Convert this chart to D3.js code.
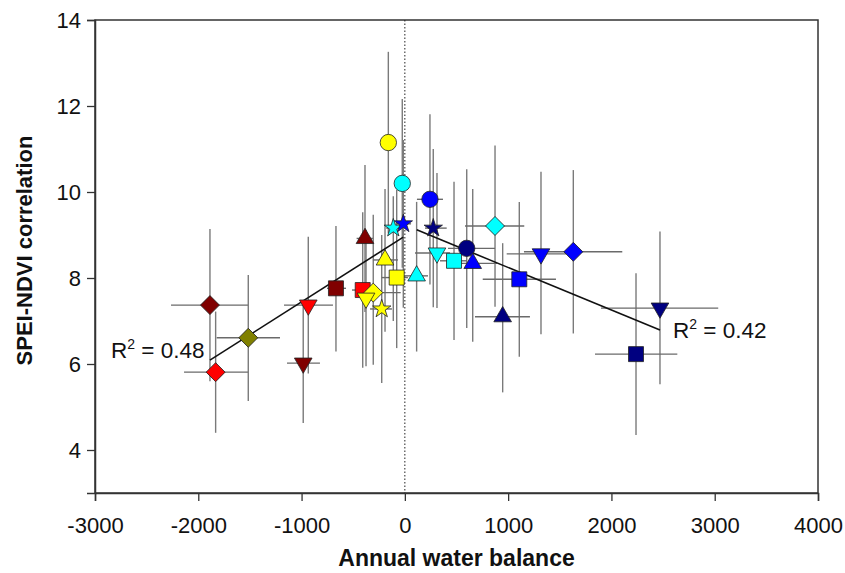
<!DOCTYPE html>
<html>
<head>
<meta charset="utf-8">
<script src="https://cdn.jsdelivr.net/npm/d3@7"></script>
<style>
  body { margin: 0; background: #fff; }
  text { font-family: "Liberation Sans", Arial, sans-serif; }
</style>
</head>
<body>
<div id="chart"></div>
<script>
// values
const waterBalance = [-1887, -1832, -1516, -935, -984, -667, -408, -386, -192, -79, -306, -376, -224, -112, -15, -160, -25, 243, 275, 311, 476, 114, 599, 657, 873, 947, 1108, 1318, 1631, 2470, 2238];
const correlation  = [7.37, 5.81, 6.61, 7.37, 6.02, 7.76, 7.72, 8.92, 8.42, 8.01, 7.66, 7.53, 7.28, 9.16, 9.26, 11.15, 10.2, 9.83, 9.16, 8.58, 8.40, 8.05, 8.69, 8.34, 9.21, 7.10, 7.97, 8.56, 8.61, 7.30, 6.23];
const wbLow  = [-2264, -2138, -1822, -1170, -1141, -754, -512, -467, -309, -224, -434, -420, -337, -180, -90, -200, -70, 117, 195, 98, 340, -47, 418, 485, 582, 679, 754, 986, 1153, 1899, 1841];
const wbHigh = [-1519, -1519, -1209, -696, -822, -570, -299, -309, -67, 30, -40, -330, -125, -50, 60, -120, 20, 369, 405, 437, 601, 224, 873, 892, 1156, 1211, 1463, 1560, 2105, 3034, 2638];
const corrLow  = [5.60, 4.40, 5.14, 5.78, 4.63, 6.29, 5.91, 7.21, 6.75, 6.37, 5.98, 5.95, 5.56, 7.00, 7.31, 9.04, 8.24, 7.85, 7.32, 7.30, 6.56, 6.29, 6.84, 6.52, 7.33, 5.34, 6.17, 6.69, 6.71, 5.53, 4.35];
const corrHigh = [9.14, 7.22, 8.07, 8.96, 7.41, 9.21, 9.53, 10.63, 10.07, 10.05, 9.47, 9.12, 9.00, 9.90, 11.21, 13.26, 12.16, 11.81, 11.00, 10.44, 10.24, 9.77, 10.53, 10.07, 11.08, 8.81, 9.77, 10.47, 10.51, 9.08, 8.11];
const markerShape = ['diamond', 'diamond', 'diamond', 'down', 'down', 'square', 'square', 'up', 'up', 'square', 'diamond', 'down', 'star', 'star', 'star', 'circle', 'circle', 'circle', 'star', 'down', 'square', 'up', 'circle', 'up', 'diamond', 'up', 'square', 'down', 'diamond', 'down', 'square'];
const markerColor = ['#800000', '#ff0000', '#808000', '#ff0000', '#800000', '#800000', '#ff0000', '#800000', '#ffff00', '#ffff00', '#ffff00', '#ffff00', '#ffff00', '#00ffff', '#0000ff', '#ffff00', '#00ffff', '#0000ff', '#000080', '#00ffff', '#00ffff', '#00ffff', '#000080', '#0000ff', '#00ffff', '#000080', '#0000ff', '#0000ff', '#0000ff', '#000080', '#000080'];

// regression lines (dry side and wet side)
const fitDryX = [-1887, -15], fitDryY = [6.09, 8.95];
const fitWetX = [115, 2470], fitWetY = [9.12, 6.79];
const r2Labels = ['0.48', '0.42'];

const xTicks = [-3000, -2000, -1000, 0, 1000, 2000, 3000, 4000];
const yTicks = [4, 6, 8, 10, 12, 14];

const width = 845,
      height = 573;
const margin = {top: 20, right: 27, bottom: 80, left: 95};

var svg = d3.select('#chart')
            .append('svg')
            .attr('width', width)
            .attr('height', height);

var x = d3.scaleLinear()
          .domain([-3000, 4000])
          .range([margin.left, width - margin.right]);

var y = d3.scaleLinear()
          .domain([3, 14])
          .range([height - margin.bottom, margin.top]);

//Frame round the plot
svg.append('rect')
   .attr('x', x(-3000))
   .attr('y', y(14))
   .attr('width', x(4000) - x(-3000))
   .attr('height', y(3) - y(14))
   .attr('fill', 'none')
   .attr('stroke', '#333')
   .attr('stroke-width', 1.5);

//Axes
var xAxis = svg.append('g')
   .attr('transform', 'translate(0,' + y(3) + ')')
   .call(d3.axisBottom(x).tickValues(xTicks).tickSize(8).tickPadding(16).tickFormat(d3.format('d')));

var yAxis = svg.append('g')
   .attr('transform', 'translate(' + x(-3000) + ',0)')
   .call(d3.axisLeft(y).tickValues(yTicks).tickSize(8).tickPadding(6));

[xAxis, yAxis].forEach(function (g) {
  g.select('.domain').attr('stroke', '#333').attr('stroke-width', 1.5);
  g.selectAll('.tick line').attr('stroke', '#333').attr('stroke-width', 1.3);
  g.selectAll('.tick text')
   .attr('fill', '#111')
   .style('font-family', '"Liberation Sans", Arial, sans-serif')
   .style('font-size', '22px');
});
xAxis.selectAll('.tick text').text(function (d) { return d; });

//Axis titles
svg.append('text')
   .attr('x', (x(-3000) + x(4000)) / 2)
   .attr('y', 566)
   .attr('text-anchor', 'middle')
   .style('font-size', '23px')
   .style('font-weight', 'bold')
   .attr('fill', '#111')
   .text('Annual water balance');

svg.append('text')
   .attr('transform', 'translate(32,' + ((y(3) + y(14)) / 2 - 6) + ') rotate(-90)')
   .attr('text-anchor', 'middle')
   .style('font-size', '22px')
   .style('font-weight', 'bold')
   .attr('fill', '#111')
   .text('SPEI-NDVI correlation');

//Zero line
svg.append('line')
   .attr('x1', x(0)).attr('x2', x(0))
   .attr('y1', y(14)).attr('y2', y(3))
   .attr('stroke', '#222')
   .attr('stroke-width', 1)
   .attr('stroke-dasharray', '1.5,2');

var pts = waterBalance.map(function (d, i) {
  return {
    wb: d, r: correlation[i],
    wlo: wbLow[i], whi: wbHigh[i],
    rlo: corrLow[i], rhi: corrHigh[i],
    shape: markerShape[i], color: markerColor[i]
  };
});

//Error bars
var bars = svg.append('g').attr('class', 'errorbars');
bars.selectAll('.vbar')
    .data(pts)
    .enter()
    .append('line')
    .attr('x1', function (d) { return x(d.wb); })
    .attr('x2', function (d) { return x(d.wb); })
    .attr('y1', function (d) { return y(d.rlo); })
    .attr('y2', function (d) { return y(d.rhi); })
    .attr('stroke', '#7a7a7a')
    .attr('stroke-width', 1.4);

bars.selectAll('.hbar')
    .data(pts)
    .enter()
    .append('line')
    .attr('x1', function (d) { return x(d.wlo); })
    .attr('x2', function (d) { return x(d.whi); })
    .attr('y1', function (d) { return y(d.r); })
    .attr('y2', function (d) { return y(d.r); })
    .attr('stroke', '#6a6a6a')
    .attr('stroke-width', 1.4);

//Regression lines
var line = d3.line()
             .x(function (d) { return x(d[0]); })
             .y(function (d) { return y(d[1]); });

[[fitDryX, fitDryY], [fitWetX, fitWetY]].forEach(function (f) {
  svg.append('path')
     .datum(f[0].map(function (v, i) { return [v, f[1][i]]; }))
     .attr('d', line)
     .attr('fill', 'none')
     .attr('stroke', '#111')
     .attr('stroke-width', 1.6);
});

//Markers
var symbolType = {
  circle:  d3.symbol().type(d3.symbolCircle).size(210),
  square:  d3.symbol().type(d3.symbolSquare).size(225),
  diamond: d3.symbol().type(d3.symbolSquare).size(180),
  up:      d3.symbol().type(d3.symbolTriangle).size(135),
  down:    d3.symbol().type(d3.symbolTriangle).size(135),
  star:    d3.symbol().type(d3.symbolStar).size(105)
};
var symbolRotate = {circle: 0, square: 0, diamond: 45, up: 0, down: 180, star: 0};

svg.append('g')
   .selectAll('path')
   .data(pts)
   .enter()
   .append('path')
   .attr('d', function (d) { return symbolType[d.shape](); })
   .attr('transform', function (d) {
     return 'translate(' + x(d.wb) + ',' + y(d.r) + ') rotate(' + symbolRotate[d.shape] + ')';
   })
   .attr('fill', function (d) { return d.color; })
   .attr('stroke', '#222')
   .attr('stroke-width', 0.8);

//R squared labels
function r2(g, px, py, val) {
  var t = g.append('text')
           .attr('x', px)
           .attr('y', py)
           .style('font-size', '22.5px')
           .attr('fill', '#111');
  t.append('tspan').text('R');
  t.append('tspan').attr('dy', -9).style('font-size', '14px').text('2');
  t.append('tspan').attr('dy', 9).text(' = ' + val);
}
r2(svg, 111, 358, r2Labels[0]);
r2(svg, 673, 338, r2Labels[1]);
</script>
</body>
</html>
